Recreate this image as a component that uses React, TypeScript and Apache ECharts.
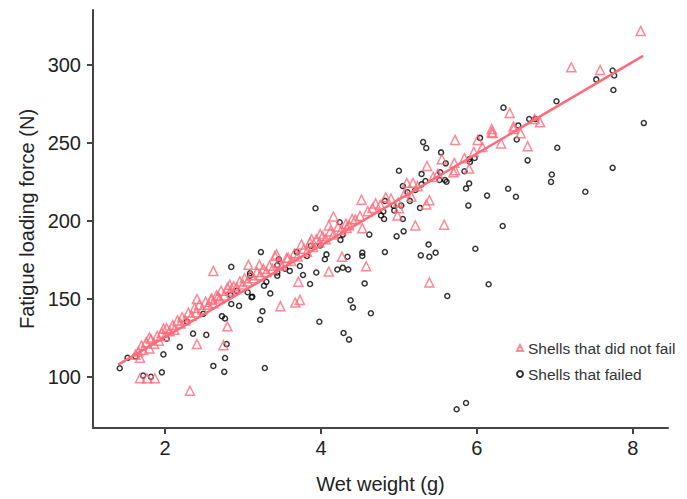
import React, { useEffect, useRef } from "react";
import * as echarts from "echarts";

const FONT = "'Liberation Sans', Arial, Helvetica, sans-serif";
const PINK = "#ff6b7a";

const xTicks = [2, 4, 6, 8];
const yTicks = [100, 150, 200, 250, 300];

// Shells that did not fail: [wet weight (g), fatigue loading force (N)]
const notFailed: [number, number][] = [
  [2.62, 167.7], [2.32, 90.9], [1.68, 98.9], [1.77, 98.9], [1.87, 98.9], [2.41, 120.8], [2.75, 120.1],
  [2.80, 132.2], [3.07, 171.6], [1.68, 112], [2.41, 149.7], [2.59, 149.3], [1.98, 130.7], [1.80, 125],
  [2.68, 151.4], [2.83, 158.9],
  [4.52, 213.4], [4.83, 214.9], [4.16, 202.6], [4.10, 196.9], [3.99, 191.4], [3.88, 188], [3.75, 184.7],
  [3.43, 178.3], [3.41, 177.2], [3.58, 176.2], [3.21, 171.6], [4.27, 176.8], [4.58, 170.7], [4.10, 167.3],
  [3.71, 160.8], [3.48, 145.1], [3.67, 147.4], [3.73, 149.1],
  [4.44, 200.8], [4.50, 202.9], [4.53, 195], [4.33, 195.2],
  [5.72, 251.7], [6.01, 251.7], [6.19, 256.6], [6.07, 247.1], [6.31, 249.4], [5.55, 239.3], [5.71, 237],
  [5.72, 232.3], [5.70, 231], [5.90, 233.3], [5.36, 235], [5.10, 224.2], [5.18, 224.2], [5.16, 215.3],
  [5.39, 213], [5.35, 210.3], [4.99, 211.6], [5.00, 207.9], [4.98, 203.3], [5.21, 196.9], [5.58, 197.3],
  [5.39, 160.3],
  [7.21, 298.3], [7.58, 296.6], [6.42, 269], [6.74, 265.1], [6.81, 263], [6.19, 258.7], [6.20, 256.2],
  [6.47, 260.4], [6.47, 258.7], [6.56, 256], [6.65, 247.7], [8.10, 321.6],
  [1.62, 114], [1.66, 116], [1.70, 120], [1.72, 117], [1.76, 122], [1.80, 118], [1.82, 124], [1.86, 121],
  [1.90, 126], [1.92, 123], [1.96, 128], [2.00, 126], [2.02, 131], [2.06, 129], [2.10, 133], [2.12, 130],
  [2.16, 136], [2.20, 134], [2.22, 138], [2.26, 136], [2.30, 141], [2.34, 139], [2.38, 144], [2.40, 141],
  [2.44, 146], [2.48, 143], [2.52, 148], [2.56, 146], [2.60, 150], [2.62, 147], [2.66, 152], [2.70, 150],
  [2.72, 155], [2.76, 152], [2.80, 157], [2.84, 155], [2.88, 158], [2.92, 157], [2.96, 161], [3.00, 159],
  [3.02, 163], [3.06, 161], [3.10, 165], [3.14, 163], [3.18, 167], [3.22, 165], [3.26, 169], [3.30, 167],
  [3.34, 171], [3.38, 169], [3.46, 173], [3.50, 171], [3.56, 176], [3.62, 174], [3.66, 179], [3.70, 177],
  [3.78, 182], [3.82, 180], [3.86, 186], [3.90, 183], [3.94, 188], [3.98, 186], [4.02, 190], [4.06, 188],
  [4.12, 193], [4.16, 191], [4.22, 196], [4.26, 194], [4.32, 198], [4.36, 197], [4.40, 201], [4.60, 206],
  [4.66, 208], [4.70, 211], [4.76, 210], [4.90, 214], [5.08, 218], [5.24, 222], [5.44, 228], [5.50, 230],
  [5.84, 240], [5.96, 244],
];

// Shells that failed
const failed: [number, number][] = [
  [1.42, 105.3], [1.52, 112], [1.62, 112.9], [1.72, 100.6], [1.82, 99.8], [1.96, 102.7], [1.98, 114.2],
  [2.19, 119], [2.02, 124.3], [2.28, 135.3], [2.36, 127.5], [2.53, 126.7], [2.62, 106.8], [2.76, 103],
  [2.77, 111.9], [2.79, 120.8], [2.73, 138.7], [2.77, 137.2], [2.85, 170.3], [2.84, 152.3], [2.95, 145.3],
  [3.11, 150.8], [3.09, 166.2], [3.22, 136.4], [2.49, 140.2],
  [3.93, 207.9], [4.24, 198.9], [4.28, 191], [4.25, 187.6], [4.62, 191], [4.80, 205.8], [4.77, 203.3],
  [4.81, 201], [4.82, 212.6], [3.23, 179.8], [3.46, 175.2], [3.69, 179.8], [3.87, 183.8], [3.99, 184],
  [4.07, 178.3], [4.05, 175.2], [3.82, 177.3], [4.53, 179.4], [4.53, 177.3], [4.82, 179.8], [4.34, 176.8],
  [4.21, 168.6], [4.28, 169.8], [4.35, 168.6], [3.44, 171.3], [3.60, 167.7], [3.54, 169.2], [3.73, 170.9],
  [3.44, 166.7], [3.44, 164.6], [3.77, 165.1], [3.94, 166.7], [3.86, 159.3], [4.56, 159.7], [4.38, 148.9],
  [4.41, 144.3], [4.64, 140.6], [3.98, 135.1], [3.25, 141.9], [3.09, 164.6], [3.30, 160.7], [3.27, 158.2],
  [3.35, 153.3], [3.12, 151.2], [3.06, 154], [2.92, 155], [2.85, 146.5],
  [5.31, 250.3], [5.35, 246.5], [5.54, 243.7], [5.60, 236.7], [5.00, 231.9], [5.29, 229.9], [5.53, 231],
  [5.52, 226], [5.59, 226], [5.61, 224.9], [5.34, 225.4], [5.29, 223.2], [5.90, 239.3], [5.91, 237.6],
  [5.97, 240.1], [5.84, 231.6], [5.90, 223.8], [5.86, 220.6], [5.89, 209.6], [6.13, 216], [6.40, 220.4],
  [6.33, 196.5], [5.98, 181.9], [6.15, 159.2], [5.62, 151.6], [5.05, 222.1], [5.11, 218.1], [5.21, 219.6],
  [5.14, 212.6], [5.27, 208.1], [5.05, 201], [4.93, 209.6], [4.94, 206.5], [5.03, 209.6], [5.06, 193.1],
  [4.97, 189.9], [5.38, 184.7], [5.47, 179.4], [5.39, 176.8], [5.28, 177.7],
  [7.74, 296.2], [7.76, 293], [7.53, 290.5], [7.75, 283.7], [8.14, 262.5], [7.02, 276.5], [6.34, 272.4],
  [6.67, 265.1], [6.75, 265.1], [6.53, 261], [6.51, 252], [6.04, 253], [7.03, 246.7], [6.65, 238.6],
  [6.96, 229.5], [6.95, 224.8], [7.74, 233.8], [7.39, 218.5], [6.50, 215.3],
  [4.29, 127.9], [4.36, 123.7], [3.28, 105.5], [5.74, 79], [5.86, 83],
];

// Fitted line endpoints
const fitW = [1.4, 8.13];
const fitF = [107.6, 305.6];

export default function App() {
  const ref = useRef<HTMLDivElement>(null);
  useEffect(() => {
    if (!ref.current) return;
    const chart = echarts.init(ref.current, undefined, { renderer: "svg" });
    const option: any = {
      animation: false,
      backgroundColor: "#fff",
      textStyle: { fontFamily: FONT },
      grid: { left: 93, top: 10, right: 19, bottom: 67 },
      legend: {
        orient: "vertical",
        left: 511,
        top: 335,
        itemWidth: 6,
        itemHeight: 6,
        itemGap: 10,
        textStyle: { fontSize: 15.5, color: "#333", fontFamily: FONT },
        data: ["Shells that did not fail", "Shells that failed"],
      },
      xAxis: {
        type: "value",
        min: 1.077,
        max: 8.45,
        splitLine: { show: false },
        axisLine: { lineStyle: { color: "#444", width: 2 } },
        axisTick: { length: 6, lineStyle: { color: "#444", width: 2 }, customValues: xTicks },
        axisLabel: { customValues: xTicks, fontSize: 20, color: "#222", margin: 10, fontFamily: FONT },
        name: "Wet weight (g)",
        nameLocation: "middle",
        nameGap: 46,
        nameTextStyle: { fontSize: 20, color: "#222", fontFamily: FONT },
      },
      yAxis: {
        type: "value",
        min: 67,
        max: 335,
        splitLine: { show: false },
        axisLine: { show: true, lineStyle: { color: "#444", width: 2 } },
        axisTick: { show: true, length: 6, lineStyle: { color: "#444", width: 2 }, customValues: yTicks },
        axisLabel: { customValues: yTicks, fontSize: 20, color: "#222", margin: 12, fontFamily: FONT },
        name: "Fatigue loading force (N)",
        nameLocation: "middle",
        nameGap: 54,
        nameTextStyle: { fontSize: 20, color: "#222", fontFamily: FONT },
      },
      series: [
        {
          name: "Shells that failed",
          type: "scatter",
          data: failed,
          symbol: "circle",
          symbolSize: 5,
          itemStyle: { color: "rgba(255,255,255,0)", borderColor: "#000", borderWidth: 1.5 },
          z: 2,
        },
        {
          name: "Shells that did not fail",
          type: "scatter",
          data: notFailed,
          symbol: "triangle",
          symbolSize: 9,
          itemStyle: { color: "rgba(255,255,255,0)", borderColor: PINK, borderWidth: 1.5 },
          z: 3,
        },
        {
          name: "fit",
          type: "line",
          data: fitW.map((w, i) => [w, fitF[i]]),
          showSymbol: false,
          symbol: "none",
          lineStyle: { color: PINK, width: 2.5 },
          z: 4,
        },
      ],
    };
    chart.setOption(option);
    return () => chart.dispose();
  }, []);
  return <div ref={ref} style={{ width: 687, height: 499, position: "absolute", left: 0, top: 0 }} />;
}
